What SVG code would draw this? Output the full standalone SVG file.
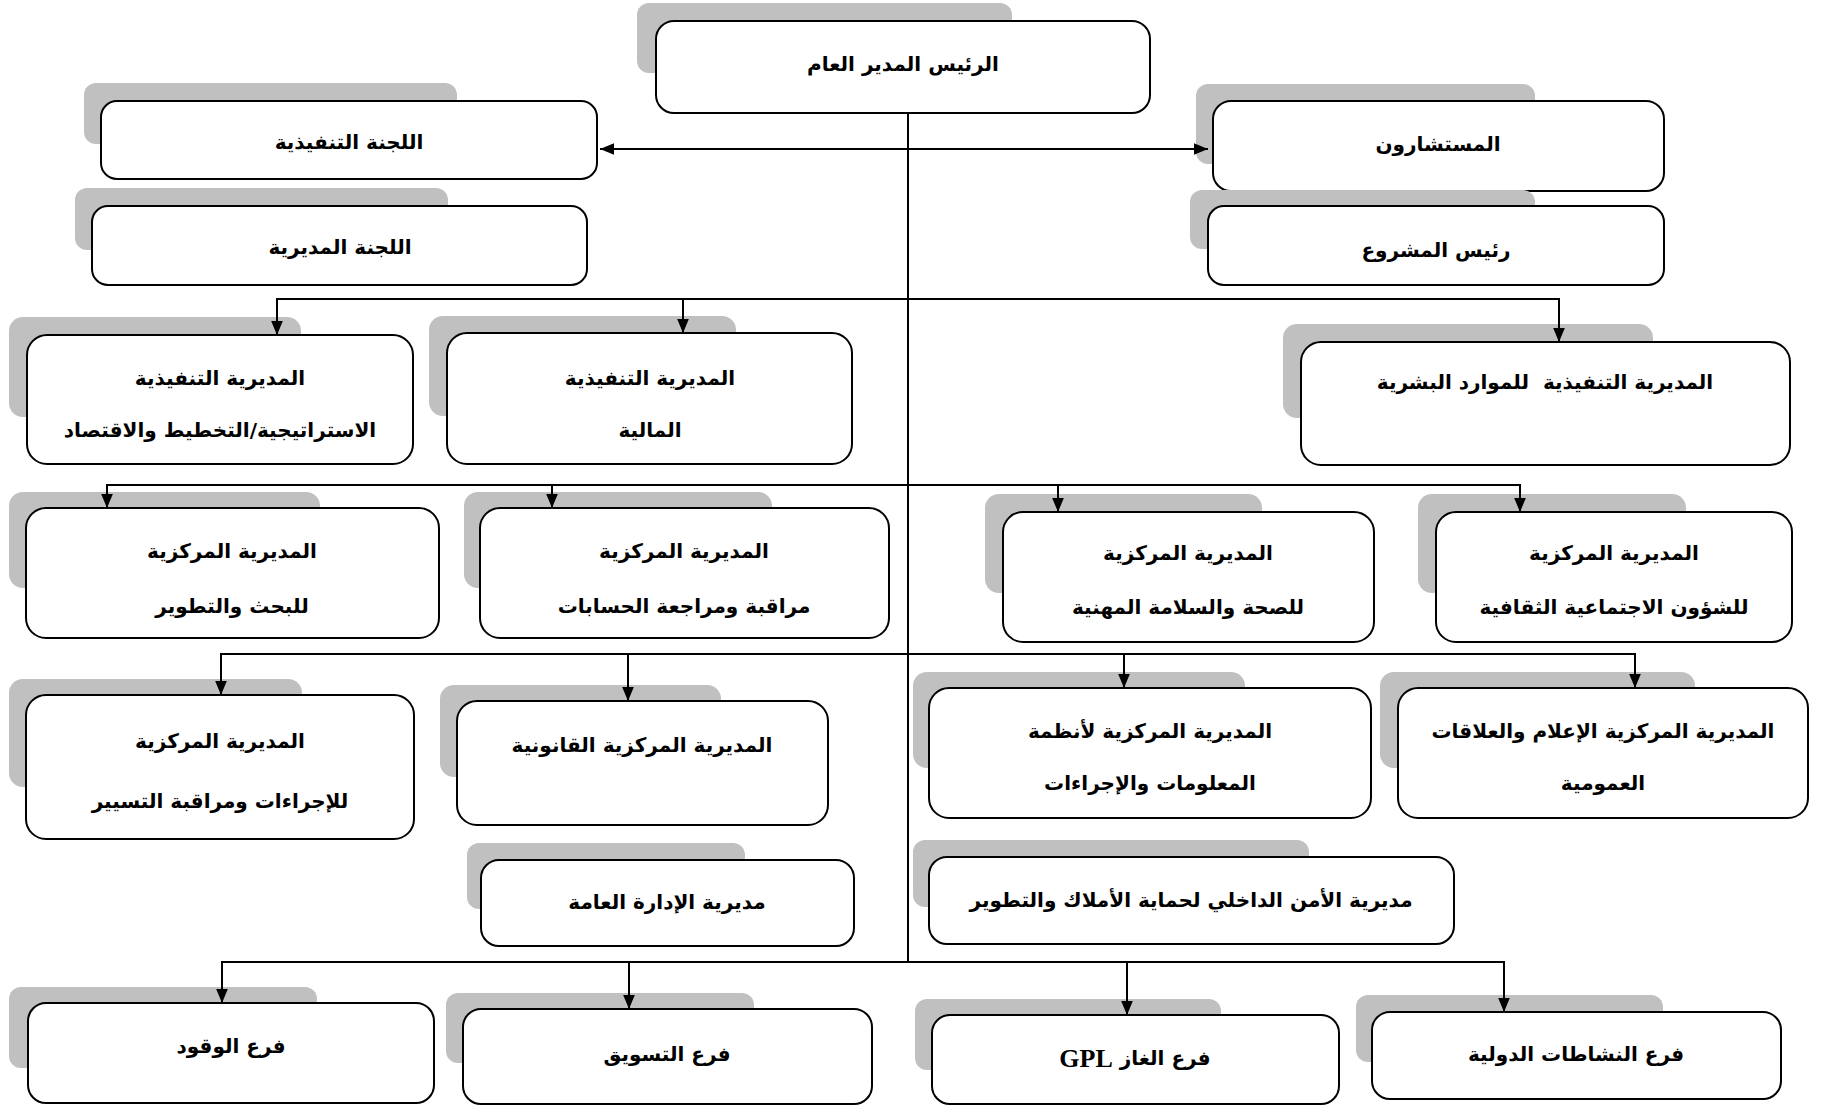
<svg xmlns="http://www.w3.org/2000/svg" width="1823" height="1106" viewBox="0 0 1823 1106">
  <style>
    .shadow { fill: #c0c0c0; }
    .box { fill: #ffffff; stroke: #000000; stroke-width: 2; }
    .lbl { font-family: "DejaVu Sans", sans-serif; font-weight: bold; font-size: 20px; fill: #000000; text-anchor: middle; dominant-baseline: central; direction: rtl; }
    .latin { font-family: "Liberation Serif", serif; font-weight: bold; font-size: 26px; }
    .wire { fill: none; stroke: #000000; stroke-width: 2; }
  </style>
  <defs>
    <marker id="arrow" viewBox="0 0 12 10" refX="12" refY="5" markerWidth="7" markerHeight="6" markerUnits="strokeWidth" orient="auto-start-reverse">
      <path d="M0,0 L12,5 L0,10 Z" fill="#000000"/>
    </marker>
  </defs>

  <rect width="1823" height="1106" fill="#ffffff"/>

  <g id="general-manager">
    <rect class="shadow" x="637" y="3" width="375" height="70" rx="12"/>
    <rect class="box" x="656" y="21" width="494" height="92" rx="18"/>
    <text class="lbl" x="903" y="64">الرئيس المدير العام</text>
  </g>

  <g id="executive-committee">
    <rect class="shadow" x="84" y="83" width="373" height="61" rx="12"/>
    <rect class="box" x="101" y="101" width="496" height="78" rx="16"/>
    <text class="lbl" x="349" y="142">اللجنة التنفيذية</text>
  </g>

  <g id="management-committee">
    <rect class="shadow" x="75" y="188" width="373" height="62" rx="12"/>
    <rect class="box" x="92" y="206" width="495" height="79" rx="16"/>
    <text class="lbl" x="340" y="247">اللجنة المديرية</text>
  </g>

  <g id="advisors">
    <rect class="shadow" x="1196" y="84" width="339" height="80" rx="12"/>
    <rect class="box" x="1213" y="101" width="451" height="90" rx="18"/>
    <text class="lbl" x="1438" y="144">المستشارون</text>
  </g>

  <g id="project-head">
    <rect class="shadow" x="1190" y="190" width="345" height="59" rx="12"/>
    <rect class="box" x="1208" y="206" width="456" height="79" rx="16"/>
    <text class="lbl" x="1436" y="250">رئيس المشروع</text>
  </g>

  <g id="strategy-directorate">
    <rect class="shadow" x="9" y="317" width="292" height="100" rx="14"/>
    <rect class="box" x="27" y="335" width="386" height="129" rx="20"/>
    <text class="lbl" x="220" y="378">المديرية التنفيذية</text>
    <text class="lbl" x="220" y="430">الاستراتيجية/التخطيط والاقتصاد</text>
  </g>

  <g id="finance-directorate">
    <rect class="shadow" x="429" y="316" width="307" height="100" rx="14"/>
    <rect class="box" x="447" y="333" width="405" height="131" rx="20"/>
    <text class="lbl" x="650" y="378">المديرية التنفيذية</text>
    <text class="lbl" x="650" y="430">المالية</text>
  </g>

  <g id="hr-directorate">
    <rect class="shadow" x="1283" y="324" width="370" height="94" rx="14"/>
    <rect class="box" x="1301" y="342" width="489" height="123" rx="20"/>
    <text class="lbl" x="1545" y="382" xml:space="preserve">المديرية التنفيذية  للموارد البشرية</text>
  </g>

  <g id="research-directorate">
    <rect class="shadow" x="9" y="492" width="311" height="96" rx="14"/>
    <rect class="box" x="26" y="508" width="413" height="130" rx="20"/>
    <text class="lbl" x="232" y="551">المديرية المركزية</text>
    <text class="lbl" x="232" y="606">للبحث والتطوير</text>
  </g>

  <g id="audit-directorate">
    <rect class="shadow" x="464" y="492" width="308" height="96" rx="14"/>
    <rect class="box" x="480" y="508" width="409" height="130" rx="20"/>
    <text class="lbl" x="684" y="551">المديرية المركزية</text>
    <text class="lbl" x="684" y="606">مراقبة ومراجعة الحسابات</text>
  </g>

  <g id="health-safety-directorate">
    <rect class="shadow" x="985" y="494" width="277" height="99" rx="14"/>
    <rect class="box" x="1003" y="512" width="371" height="130" rx="20"/>
    <text class="lbl" x="1188" y="553">المديرية المركزية</text>
    <text class="lbl" x="1188" y="607">للصحة والسلامة المهنية</text>
  </g>

  <g id="social-affairs-directorate">
    <rect class="shadow" x="1418" y="494" width="268" height="99" rx="14"/>
    <rect class="box" x="1436" y="512" width="356" height="130" rx="20"/>
    <text class="lbl" x="1614" y="553">المديرية المركزية</text>
    <text class="lbl" x="1614" y="607">للشؤون الاجتماعية الثقافية</text>
  </g>

  <g id="procedures-directorate">
    <rect class="shadow" x="9" y="679" width="293" height="108" rx="14"/>
    <rect class="box" x="26" y="695" width="388" height="144" rx="20"/>
    <text class="lbl" x="220" y="741">المديرية المركزية</text>
    <text class="lbl" x="220" y="801">للإجراءات ومراقبة التسيير</text>
  </g>

  <g id="legal-directorate">
    <rect class="shadow" x="440" y="685" width="281" height="92" rx="14"/>
    <rect class="box" x="457" y="701" width="371" height="124" rx="20"/>
    <text class="lbl" x="642" y="745">المديرية المركزية القانونية</text>
  </g>

  <g id="information-systems-directorate">
    <rect class="shadow" x="913" y="672" width="332" height="96" rx="14"/>
    <rect class="box" x="929" y="688" width="442" height="130" rx="20"/>
    <text class="lbl" x="1150" y="731">المديرية المركزية لأنظمة</text>
    <text class="lbl" x="1150" y="783">المعلومات والإجراءات</text>
  </g>

  <g id="media-relations-directorate">
    <rect class="shadow" x="1380" y="672" width="315" height="96" rx="14"/>
    <rect class="box" x="1398" y="688" width="410" height="130" rx="20"/>
    <text class="lbl" x="1603" y="731">المديرية المركزية الإعلام والعلاقات</text>
    <text class="lbl" x="1603" y="783">العمومية</text>
  </g>

  <g id="general-administration">
    <rect class="shadow" x="467" y="843" width="278" height="66" rx="12"/>
    <rect class="box" x="481" y="860" width="373" height="86" rx="18"/>
    <text class="lbl" x="667" y="902">مديرية الإدارة العامة</text>
  </g>

  <g id="internal-security">
    <rect class="shadow" x="913" y="840" width="396" height="67" rx="12"/>
    <rect class="box" x="929" y="857" width="525" height="87" rx="18"/>
    <text class="lbl" x="1191" y="900">مديرية الأمن الداخلي لحماية الأملاك والتطوير</text>
  </g>

  <g id="fuel-branch">
    <rect class="shadow" x="9" y="987" width="308" height="81" rx="12"/>
    <rect class="box" x="28" y="1003" width="406" height="100" rx="18"/>
    <text class="lbl" x="231" y="1046">فرع الوقود</text>
  </g>

  <g id="marketing-branch">
    <rect class="shadow" x="446" y="993" width="308" height="70" rx="12"/>
    <rect class="box" x="463" y="1009" width="409" height="95" rx="18"/>
    <text class="lbl" x="667" y="1054">فرع التسويق</text>
  </g>

  <g id="gpl-branch">
    <rect class="shadow" x="915" y="999" width="306" height="71" rx="12"/>
    <rect class="box" x="932" y="1015" width="407" height="89" rx="18"/>
    <text class="lbl" x="1135" y="1058">فرع الغاز <tspan class="latin">GPL</tspan></text>
  </g>

  <g id="international-branch">
    <rect class="shadow" x="1356" y="995" width="307" height="67" rx="12"/>
    <rect class="box" x="1372" y="1012" width="409" height="87" rx="18"/>
    <text class="lbl" x="1576" y="1054">فرع النشاطات الدولية</text>
  </g>

  <!-- connectors, drawn over the box shadows so the arrowheads stay visible -->
  <g id="connectors" class="wire">
    <!-- trunk from the general manager -->
    <line x1="908" y1="113" x2="908" y2="962"/>
    <!-- advisory link, both directions -->
    <line x1="600" y1="149" x2="1208" y2="149" marker-start="url(#arrow)" marker-end="url(#arrow)"/>
    <!-- executive directorates -->
    <line x1="277" y1="299" x2="1559" y2="299"/>
    <line x1="277" y1="298" x2="277" y2="335" marker-end="url(#arrow)"/>
    <line x1="683" y1="298" x2="683" y2="333" marker-end="url(#arrow)"/>
    <line x1="1559" y1="298" x2="1559" y2="342" marker-end="url(#arrow)"/>
    <!-- central directorates, first tier -->
    <line x1="107" y1="485" x2="1520" y2="485"/>
    <line x1="107" y1="484" x2="107" y2="508" marker-end="url(#arrow)"/>
    <line x1="552" y1="484" x2="552" y2="508" marker-end="url(#arrow)"/>
    <line x1="1058" y1="484" x2="1058" y2="512" marker-end="url(#arrow)"/>
    <line x1="1520" y1="484" x2="1520" y2="512" marker-end="url(#arrow)"/>
    <!-- central directorates, second tier -->
    <line x1="221" y1="654" x2="1635" y2="654"/>
    <line x1="221" y1="653" x2="221" y2="695" marker-end="url(#arrow)"/>
    <line x1="628" y1="653" x2="628" y2="701" marker-end="url(#arrow)"/>
    <line x1="1124" y1="653" x2="1124" y2="688" marker-end="url(#arrow)"/>
    <line x1="1635" y1="653" x2="1635" y2="688" marker-end="url(#arrow)"/>
    <!-- branches -->
    <line x1="222" y1="962" x2="1504" y2="962"/>
    <line x1="222" y1="961" x2="222" y2="1003" marker-end="url(#arrow)"/>
    <line x1="629" y1="961" x2="629" y2="1009" marker-end="url(#arrow)"/>
    <line x1="1127" y1="961" x2="1127" y2="1015" marker-end="url(#arrow)"/>
    <line x1="1504" y1="961" x2="1504" y2="1012" marker-end="url(#arrow)"/>
  </g>
</svg>
